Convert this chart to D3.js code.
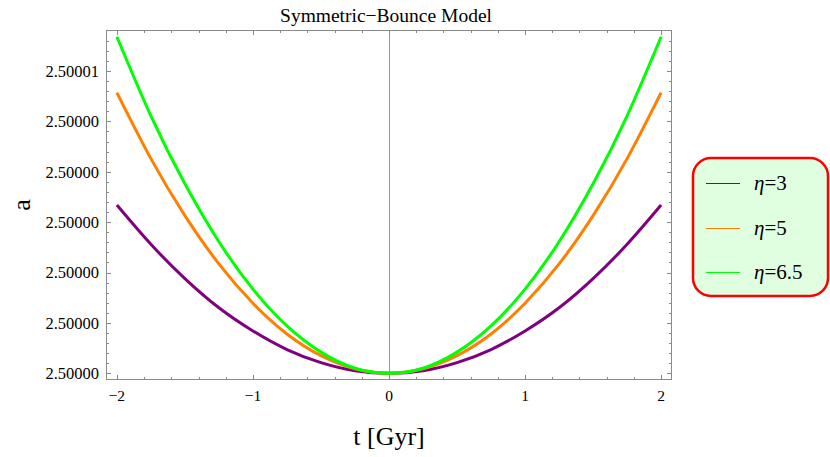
<!DOCTYPE html>
<html>
<head>
<meta charset="utf-8">
<script src="https://cdn.jsdelivr.net/npm/d3@7"></script>
<style>
  body { margin: 0; background: #fff; }
</style>
</head>
<body>
<div id="chart"></div>
<script>
// values (a at each t)
const tValues = [-2, -1.75, -1.5, -1.25, -1, -0.75, -0.5, -0.25, 0, 0.25, 0.5, 0.75, 1, 1.25, 1.5, 1.75, 2];
const eta3 = [2.50000334, 2.50000256, 2.50000188, 2.5000013, 2.50000084, 2.50000047, 2.50000021, 2.50000005, 2.5,
              2.50000005, 2.50000021, 2.50000047, 2.50000084, 2.5000013, 2.50000188, 2.50000256, 2.50000334];
const eta5 = [2.50000557, 2.50000426, 2.50000313, 2.50000217, 2.50000139, 2.50000078, 2.50000035, 2.50000009, 2.5,
              2.50000009, 2.50000035, 2.50000078, 2.50000139, 2.50000217, 2.50000313, 2.50000426, 2.50000557];
const eta65 = [2.50000668, 2.50000511, 2.50000376, 2.50000261, 2.50000167, 2.50000094, 2.50000042, 2.5000001, 2.5,
               2.5000001, 2.50000042, 2.50000094, 2.50000167, 2.50000261, 2.50000376, 2.50000511, 2.50000668];
const seriesNames = ["η=3", "η=5", "η=6.5"];

const xTicks = [-2, -1, 0, 1, 2];
const xTickLabels = ["−2", "−1", "0", "1", "2"];
const yTicks = [2.5, 2.500001, 2.500002, 2.500003, 2.500004, 2.500005, 2.500006];
const yTickLabels = ["2.50000", "2.50000", "2.50000", "2.50000", "2.50000", "2.50000", "2.50001"];

const colors = ["#800080", "#ff8000", "#00ff00"];
const series = [eta3, eta5, eta65];

const W = 830, H = 457;
const pLeft = 106, pRight = 672, pTop = 30, pBottom = 380;
const serif = "'Liberation Serif', 'Times New Roman', serif";

const svg = d3.select("#chart").append("svg")
  .attr("width", W)
  .attr("height", H);

// 2% padding like the original plot range
const xPad = 0.02 * (d3.max(tValues) - d3.min(tValues));
const yMin = d3.min(series.flat()), yMax = d3.max(series.flat());
const yPad = 0.02 * (yMax - yMin);

const x = d3.scaleLinear()
  .domain([d3.min(tValues) - xPad, d3.max(tValues) + xPad])
  .range([pLeft, pRight]);
const y = d3.scaleLinear()
  .domain([yMin - yPad, yMax + yPad])
  .range([pBottom, pTop]);

const frameColor = "#8a8a8a";

// t = 0 axis line
svg.append("line")
  .attr("x1", Math.round(x(0)) + 0.5).attr("x2", Math.round(x(0)) + 0.5)
  .attr("y1", pTop).attr("y2", pBottom)
  .attr("stroke", "#999")
  .attr("stroke-width", 1);

// curves
const line = d3.line()
  .x((d, i) => x(tValues[i]))
  .y(d => y(d))
  .curve(d3.curveNatural);

svg.selectAll(".curve")
  .data(series)
  .enter().append("path")
  .attr("class", "curve")
  .attr("d", line)
  .attr("fill", "none")
  .attr("stroke", (d, i) => colors[i])
  .attr("stroke-width", 3);

// frame
svg.append("rect")
  .attr("x", pLeft + 0.5).attr("y", pTop + 0.5)
  .attr("width", pRight - pLeft - 1).attr("height", pBottom - pTop - 1)
  .attr("fill", "none")
  .attr("stroke", frameColor)
  .attr("stroke-width", 1);

// ticks on all four sides
const xMinor = d3.range(-2, 2.0001, 0.2).filter(v => Math.abs(v - Math.round(v)) > 1e-6);
const ySpan = yTicks[1] - yTicks[0];
const yMinor = d3.range(0, 35).map(k => yTicks[0] + k * ySpan / 5)
  .filter((v, k) => k % 5 !== 0 && y(v) > pTop + 1);

const tickG = svg.append("g").attr("stroke", frameColor).attr("stroke-width", 1);
function xTick(v, len) {
  const px = Math.round(x(v)) + 0.5;
  tickG.append("line").attr("x1", px).attr("x2", px).attr("y1", pBottom).attr("y2", pBottom - len);
  tickG.append("line").attr("x1", px).attr("x2", px).attr("y1", pTop).attr("y2", pTop + len);
}
function yTick(v, len) {
  const py = Math.round(y(v)) + 0.5;
  tickG.append("line").attr("x1", pLeft).attr("x2", pLeft + len).attr("y1", py).attr("y2", py);
  tickG.append("line").attr("x1", pRight).attr("x2", pRight - len).attr("y1", py).attr("y2", py);
}
xTicks.forEach(v => xTick(v, 5));
xMinor.forEach(v => xTick(v, 3));
yTicks.forEach(v => yTick(v, 5));
yMinor.forEach(v => yTick(v, 3));

// tick labels
svg.selectAll(".xlab")
  .data(xTicks)
  .enter().append("text")
  .attr("x", d => x(d))
  .attr("y", 401)
  .attr("text-anchor", "middle")
  .attr("font-family", serif)
  .style("font-size", "15.5px")
  .text((d, i) => xTickLabels[i]);

svg.selectAll(".ylab")
  .data(yTicks)
  .enter().append("text")
  .attr("x", 99)
  .attr("y", d => y(d))
  .attr("dy", "0.35em")
  .attr("text-anchor", "end")
  .attr("font-family", serif)
  .style("font-size", "16.5px")
  .text((d, i) => yTickLabels[i]);

// title and axis labels
svg.append("text")
  .attr("x", 386)
  .attr("y", 22)
  .attr("text-anchor", "middle")
  .attr("font-family", serif)
  .style("font-size", "19.5px")
  .text("Symmetric−Bounce Model");

svg.append("text")
  .attr("x", (pLeft + pRight) / 2)
  .attr("y", 445)
  .attr("text-anchor", "middle")
  .attr("font-family", serif)
  .style("font-size", "26px")
  .text("t [Gyr]");

svg.append("text")
  .attr("transform", "translate(30,205) rotate(-90)")
  .attr("text-anchor", "middle")
  .attr("font-family", serif)
  .style("font-size", "26px")
  .text("a");

// legend
const legend = svg.append("g").attr("transform", "translate(692,157)");
legend.append("rect")
  .attr("x", 1).attr("y", 1)
  .attr("width", 135).attr("height", 138)
  .attr("rx", 18).attr("ry", 18)
  .attr("fill", "#e0ffe0")
  .attr("stroke", "#ff0000")
  .attr("stroke-width", 2.5);

const item = legend.selectAll(".item")
  .data(seriesNames)
  .enter().append("g")
  .attr("transform", (d, i) => `translate(0, ${26 + Math.round(i * 44.5)})`);

item.append("line")
  .attr("x1", 14).attr("x2", 48)
  .attr("y1", 0.5).attr("y2", 0.5)
  .attr("stroke", (d, i) => colors[i])
  .attr("stroke-width", 1);

const label = item.append("text")
  .attr("x", 62)
  .attr("dy", "0.35em")
  .attr("font-family", serif)
  .style("font-size", "21px");
label.append("tspan").style("font-style", "italic").text(d => d[0]);
label.append("tspan").text(d => d.slice(1));
</script>
</body>
</html>
